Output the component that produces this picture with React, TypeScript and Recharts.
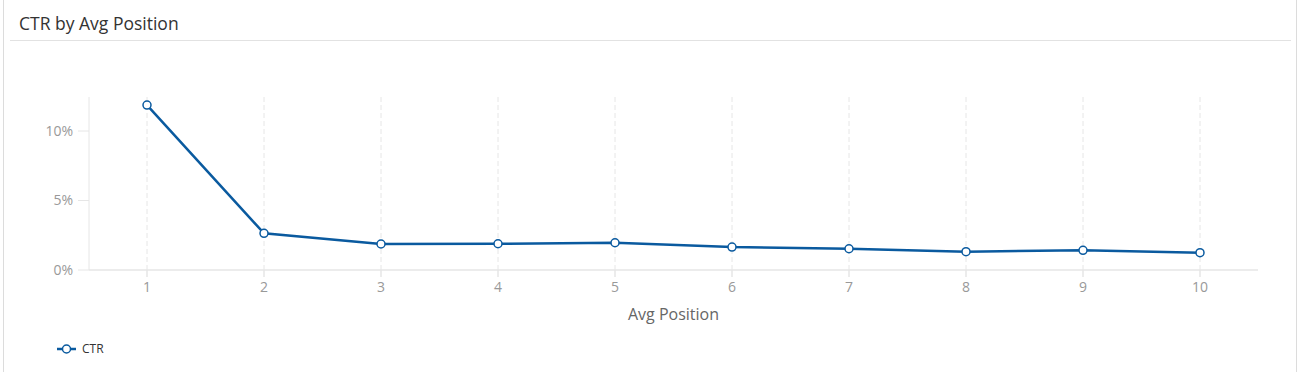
import React from 'react';
import { LineChart, Line, XAxis, YAxis, ReferenceLine } from 'recharts';

const positions = ['1', '2', '3', '4', '5', '6', '7', '8', '9', '10'];
const ctrValues = [11.87, 2.64, 1.87, 1.89, 1.96, 1.65, 1.53, 1.32, 1.42, 1.25];
const yTicks = [0, 5, 10];

const BLUE = '#0a5a9f';
const FONT = '"Open Sans", sans-serif';

const chartData = positions.map((pos, i) => ({ position: pos, ctr: ctrValues[i] }));

export default function App() {
  return (
    <div style={{ position: 'fixed', left: 0, top: 0, width: 1306, height: 372, background: '#fff', overflow: 'hidden', fontFamily: FONT }}>
      {/* card */}
      <div
        style={{
          position: 'absolute',
          left: 3,
          top: -10,
          width: 1292,
          height: 400,
          borderLeft: '1px solid #dcdcdc',
          borderRight: '1px solid #dcdcdc',
        }}
      />
      <div style={{ position: 'absolute', left: 19, top: 11, fontSize: 17.5, color: '#333', lineHeight: '24px' }}>
        CTR by Avg Position
      </div>
      <div style={{ position: 'absolute', left: 10, top: 40, width: 1281, height: 1, background: '#e2e2e2' }} />

      <div style={{ position: 'absolute', left: 0, top: 0 }}>
        <LineChart width={1306} height={372} data={chartData} margin={{ top: 97, right: 48, bottom: 52, left: 0 }}>
          {positions.map((p) => (
            <ReferenceLine key={p} x={p} stroke="#e6e6e6" strokeDasharray="5 3" />
          ))}
          <XAxis
            dataKey="position"
            padding={{ left: 58, right: 58 }}
            height={50}
            stroke="#e6e6e6"
            strokeWidth={1.5}
            tickSize={7}
            tickMargin={5}
            tick={{ fill: '#999', fontSize: 14, fontFamily: FONT }}
            label={{ value: 'Avg Position', position: 'insideBottom', offset: 0, fill: '#666', fontSize: 16, fontFamily: FONT }}
          />
          <YAxis
            width={89}
            domain={[0, 12.45]}
            ticks={yTicks}
            tickFormatter={(v) => `${v}%`}
            stroke="#e6e6e6"
            tickSize={11}
            tickMargin={5}
            tick={{ fill: '#999', fontSize: 14, fontFamily: FONT }}
          />
          <Line
            type="linear"
            dataKey="ctr"
            name="CTR"
            stroke={BLUE}
            strokeWidth={2.5}
            dot={{ r: 4, fill: '#fff', stroke: BLUE, strokeWidth: 1.5 }}
            activeDot={false}
            isAnimationActive={false}
          />
        </LineChart>
      </div>

      {/* legend */}
      <div style={{ position: 'absolute', left: 57, top: 340, display: 'flex', alignItems: 'center', fontSize: 12, color: '#333' }}>
        <svg width={19} height={16}>
          <line x1={0} y1={8} x2={19} y2={8} stroke={BLUE} strokeWidth={2.5} />
          <circle cx={9.5} cy={8} r={4} fill="#fff" stroke={BLUE} strokeWidth={1.5} />
        </svg>
        <span style={{ marginLeft: 6 }}>CTR</span>
      </div>
    </div>
  );
}
